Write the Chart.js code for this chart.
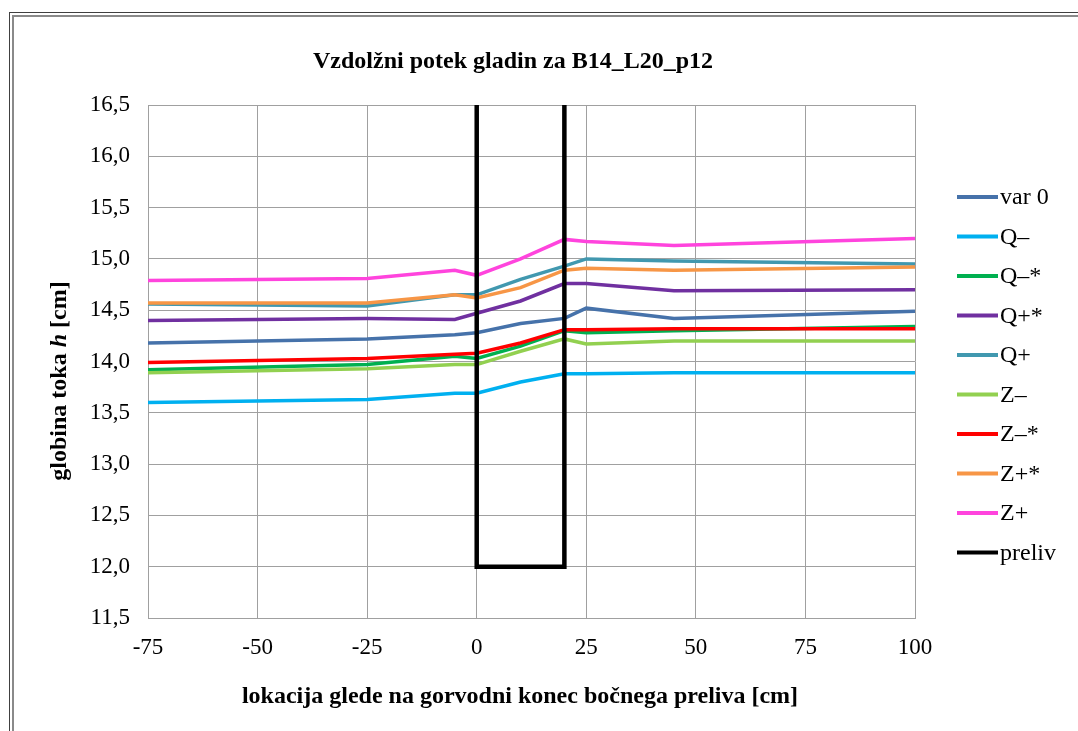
<!DOCTYPE html>
<html>
<head>
<meta charset="utf-8">
<script src="https://cdn.jsdelivr.net/npm/chart.js@4"></script>
<style>
html, body { margin: 0; padding: 0; background: #fff; }
#wrap { position: relative; width: 1078px; height: 731px; overflow: hidden; }
#frame1 { position: absolute; left: 9px; top: 12px; width: 1200px; height: 800px; border-left: 1px solid #404040; border-top: 1px solid #404040; }
#frame2 { position: absolute; left: 12px; top: 15px; width: 1200px; height: 800px; border-left: 2px solid #8a8a8a; border-top: 2px solid #8a8a8a; }
canvas { position: absolute; left: 0; top: 0; }
</style>
</head>
<body>
<div id="wrap">
  <div id="frame1"></div>
  <div id="frame2"></div>
  <canvas id="gladine" width="1078" height="731"></canvas>
</div>
<script>
// lokacije merilnih točk [cm]
const lokacije = [-75, -25, -5, 0, 10, 20, 25, 45, 100];

const var0   = [14.18, 14.22, 14.26, 14.28, 14.37, 14.42, 14.52, 14.42, 14.49];
const qMinus = [13.60, 13.63, 13.69, 13.69, 13.80, 13.88, 13.88, 13.89, 13.89];
const qMinusZ = [13.92, 13.97, 14.05, 14.03, 14.15, 14.30, 14.28, 14.30, 14.34];
const qPlusZ = [14.40, 14.42, 14.41, 14.47, 14.59, 14.76, 14.76, 14.69, 14.70];
const qPlus  = [14.56, 14.54, 14.65, 14.65, 14.80, 14.93, 15.00, 14.98, 14.95];
const zMinus = [13.89, 13.93, 13.97, 13.97, 14.10, 14.22, 14.17, 14.20, 14.20];
const zMinusZ = [13.99, 14.03, 14.07, 14.08, 14.18, 14.31, 14.31, 14.32, 14.32];
const zPlusZ = [14.57, 14.57, 14.65, 14.62, 14.72, 14.89, 14.91, 14.89, 14.92];
const zPlus  = [14.79, 14.81, 14.89, 14.84, 15.00, 15.19, 15.17, 15.13, 15.20];

// preliv (obris)
const prelivX = [0, 0, 20, 20];
const prelivY = [16.5, 12.0, 12.0, 16.5];

const imena = ['var 0', 'Q\u2013', 'Q\u2013*', 'Q+*', 'Q+', 'Z\u2013', 'Z\u2013*', 'Z+*', 'Z+', 'preliv'];
const barve = ['#4672aa', '#00b0f0', '#00b050', '#7030a0', '#4198af', '#92d050', '#ff0000', '#f79646', '#ff44dd', '#000000'];

const naslov = 'Vzdolžni potek gladin za B14_L20_p12';
const naslovX = 'lokacija glede na gorvodni konec bočnega preliva [cm]';

const serije = [var0, qMinus, qMinusZ, qPlusZ, qPlus, zMinus, zMinusZ, zPlusZ, zPlus];

function tocke(xs, ys) {
    return xs.map((x, i) => ({ x: x, y: ys[i] }));
}

const datasets = serije.map((s, i) => ({
    label: imena[i],
    data: tocke(lokacije, s),
    borderColor: barve[i],
    backgroundColor: barve[i],
    borderWidth: 3.5,
    pointRadius: 0,
    tension: 0,
    order: 20 - i
}));
datasets.push({
    label: imena[9],
    data: tocke(prelivX, prelivY),
    borderColor: barve[9],
    backgroundColor: barve[9],
    borderWidth: 4.5,
    pointRadius: 0,
    tension: 0,
    order: 0
});

const serif = '"Liberation Serif", "Times New Roman", serif';

// naslovi in legenda
const besedila = {
    id: 'besedila',
    afterDraw(chart) {
        const c = chart.ctx;
        c.save();
        c.fillStyle = '#000';
        c.textAlign = 'center';
        c.textBaseline = 'middle';
        c.font = 'bold 24px ' + serif;
        c.fillText(naslov, 513, 62);
        c.fillText(naslovX, 520, 697);

        // os y z ležečim h
        const deli = [['globina toka ', 'bold'], ['h', 'italic bold'], [' [cm]', 'bold']];
        let sirina = 0;
        deli.forEach(d => { c.font = d[1] + ' 24px ' + serif; sirina += c.measureText(d[0]).width; });
        c.translate(60, 381);
        c.rotate(-Math.PI / 2);
        c.textAlign = 'left';
        let px = -sirina / 2;
        deli.forEach(d => {
            c.font = d[1] + ' 24px ' + serif;
            c.fillText(d[0], px, 0);
            px += c.measureText(d[0]).width;
        });
        c.restore();

        // legenda
        c.save();
        c.textAlign = 'left';
        c.textBaseline = 'middle';
        c.font = '24px ' + serif;
        chart.data.datasets.forEach((ds, i) => {
            const y = 197 + i * 39.5;
            c.strokeStyle = ds.borderColor;
            c.lineWidth = 4;
            c.beginPath();
            c.moveTo(957, y);
            c.lineTo(998, y);
            c.stroke();
            c.fillStyle = '#000';
            c.fillText(ds.label, 1000, y + 1);
        });
        c.restore();
    }
};

new Chart(document.getElementById('gladine'), {
    type: 'line',
    data: { datasets: datasets },
    options: {
        responsive: false,
        animation: false,
        layout: { padding: { top: 105, right: 163, left: 0, bottom: 0 } },
        plugins: {
            legend: { display: false },
            title: { display: false },
            tooltip: { enabled: false }
        },
        scales: {
            x: {
                type: 'linear',
                min: -75,
                max: 100,
                afterFit: s => { s.height = 113; },
                ticks: {
                    stepSize: 25,
                    padding: 16,
                    color: '#000',
                    font: { family: serif, size: 23 }
                },
                grid: { color: '#a0a0a0', lineWidth: 1, drawTicks: false },
                border: { color: '#a0a0a0' }
            },
            y: {
                min: 11.5,
                max: 16.5,
                afterFit: s => { s.width = 148; },
                ticks: {
                    stepSize: 0.5,
                    padding: 18,
                    color: '#000',
                    font: { family: serif, size: 23 },
                    callback: v => v.toFixed(1).replace('.', ',')
                },
                grid: { color: '#a0a0a0', lineWidth: 1, drawTicks: false },
                border: { color: '#a0a0a0' }
            }
        }
    },
    plugins: [besedila]
});
</script>
</body>
</html>
